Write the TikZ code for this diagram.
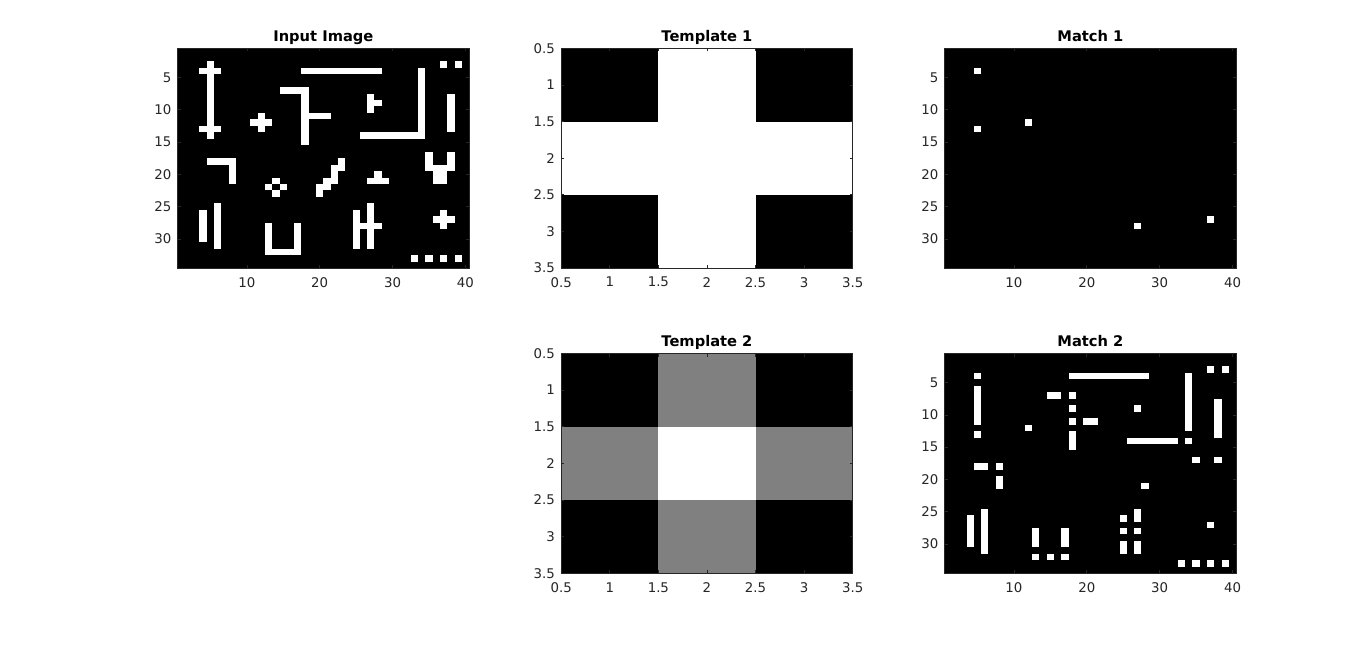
\documentclass[tikz,border=0pt]{standalone}
\usepackage{fontspec}
\setmainfont{DejaVu Sans}
\definecolor{axgray}{gray}{0.15}
\definecolor{midgray}{gray}{0.5}
\begin{document}
\begin{tikzpicture}[x=0.75pt, y=-0.75pt,
        every node/.style={font=\fontsize{10}{12}\selectfont, text=axgray},
        ttl/.style={font=\fontsize{11}{13}\selectfont\bfseries, text=black,
          anchor=base, inner sep=0pt, yshift=5.1pt},
        xlbl/.style={anchor=north, inner sep=0pt, yshift=-6.75pt},
        ylbl/.style={anchor=east, inner sep=0pt, xshift=-4.5pt},
        frame/.style={draw=axgray, line width=0.5pt},
        tickln/.style={draw=axgray, line width=0.5pt},
        pixgrid/.style={x=5.4656pt, y=-4.8464pt},
        tmplgrid/.style={x=72.875pt, y=-54.925pt},
      ]
      \useasboundingbox (0,0) rectangle (1366,644);
      \fill[white] (0,0) rectangle (1366,644);

      % input image
      \begin{scope}[shift={(173.96,45.07)}, pixgrid]
        \fill[black] (0.5,0.5) rectangle (40.5,34.5);
        \foreach \a/\b/\c/\d in {5/3/5/14, 4/4/6/4, 4/13/6/13,
            12/11/12/13, 11/12/13/12,
            15/7/18/7, 18/7/18/15, 18/11/21/11, 18/4/28/4,
            27/8/27/10, 28/9/28/9, 34/4/34/14, 26/14/34/14,
            37/3/37/3, 39/3/39/3, 38/8/38/13,
            5/18/8/18, 8/18/8/21,
            14/21/14/21, 13/22/13/22, 15/22/15/22, 14/23/14/23,
            23/18/23/19, 22/19/22/21, 21/21/21/22, 20/22/20/23,
            28/20/28/21, 27/21/29/21,
            35/17/35/19, 38/17/38/19, 36/19/37/21,
            4/26/4/30, 6/25/6/31,
            13/28/13/32, 17/28/17/32, 13/32/17/32,
            25/26/25/31, 27/25/27/31, 25/28/28/28,
            37/26/37/28, 36/27/38/27,
            33/33/33/33, 35/33/35/33, 37/33/37/33, 39/33/39/33}
          \fill[white] (\a-0.5,\b-0.5) rectangle (\c+0.5,\d+0.5);
        \draw[frame] (0.5,0.5) rectangle (40.5,34.5);
        \foreach \t [count=\i] in {10,20,30,40} {
          \draw[tickln] (\t,34.5) -- ++(0pt,2.25pt);
          \draw[tickln] (\t,0.5) -- ++(0pt,-2.25pt);
          \node[xlbl] (inx\i) at (\t,34.5) {\t};
        }
        \foreach \t [count=\i] in {5,10,15,20,25,30} {
          \draw[tickln] (0.5,\t) -- ++(2.25pt,0pt);
          \draw[tickln] (40.5,\t) -- ++(-2.25pt,0pt);
          \node[ylbl] (iny\i) at (0.5,\t) {\t};
        }
        \node[ttl] (intitle) at (20.5,0.5) {Input Image};
      \end{scope}

      % template 1
      \begin{scope}[shift={(512.62,11.68)}, tmplgrid]
        \fill[black] (0.5,0.5) rectangle (3.5,3.5);
        \fill[white] (1.5,0.5) rectangle (2.5,3.5);
        \fill[white] (0.5,1.5) rectangle (3.5,2.5);
        \draw[frame] (0.5,0.5) rectangle (3.5,3.5);
        \foreach \t [count=\i] in {0.5,1,1.5,2,2.5,3,3.5} {
          \draw[tickln] (\t,3.5) -- ++(0pt,2.25pt);
          \draw[tickln] (\t,0.5) -- ++(0pt,-2.25pt);
          \draw[tickln] (0.5,\t) -- ++(2.25pt,0pt);
          \draw[tickln] (3.5,\t) -- ++(-2.25pt,0pt);
          \node[xlbl] (tax\i) at (\t,3.5) {\t};
          \node[ylbl] (tay\i) at (0.5,\t) {\t};
        }
        \node[ttl] (tatitle) at (2,0.5) {Template 1};
      \end{scope}

      % match 1
      \begin{scope}[shift={(941.06,45.07)}, pixgrid]
        \fill[black] (0.5,0.5) rectangle (40.5,34.5);
        \foreach \a/\b in {5/4, 5/13, 12/12, 27/28, 37/27}
          \fill[white] (\a-0.5,\b-0.5) rectangle (\a+0.5,\b+0.5);
        \draw[frame] (0.5,0.5) rectangle (40.5,34.5);
        \foreach \t [count=\i] in {10,20,30,40} {
          \draw[tickln] (\t,34.5) -- ++(0pt,2.25pt);
          \draw[tickln] (\t,0.5) -- ++(0pt,-2.25pt);
          \node[xlbl] (max\i) at (\t,34.5) {\t};
        }
        \foreach \t [count=\i] in {5,10,15,20,25,30} {
          \draw[tickln] (0.5,\t) -- ++(2.25pt,0pt);
          \draw[tickln] (40.5,\t) -- ++(-2.25pt,0pt);
          \node[ylbl] (may\i) at (0.5,\t) {\t};
        }
        \node[ttl] (matitle) at (20.5,0.5) {Match 1};
      \end{scope}

      % template 2
      \begin{scope}[shift={(512.62,316.88)}, tmplgrid]
        \fill[black] (0.5,0.5) rectangle (3.5,3.5);
        \fill[midgray] (1.5,0.5) rectangle (2.5,3.5);
        \fill[midgray] (0.5,1.5) rectangle (3.5,2.5);
        \fill[white] (1.5,1.5) rectangle (2.5,2.5);
        \draw[frame] (0.5,0.5) rectangle (3.5,3.5);
        \foreach \t [count=\i] in {0.5,1,1.5,2,2.5,3,3.5} {
          \draw[tickln] (\t,3.5) -- ++(0pt,2.25pt);
          \draw[tickln] (\t,0.5) -- ++(0pt,-2.25pt);
          \draw[tickln] (0.5,\t) -- ++(2.25pt,0pt);
          \draw[tickln] (3.5,\t) -- ++(-2.25pt,0pt);
          \node[xlbl] (tbx\i) at (\t,3.5) {\t};
          \node[ylbl] (tby\i) at (0.5,\t) {\t};
        }
        \node[ttl] (tbtitle) at (2,0.5) {Template 2};
      \end{scope}

      % match 2
      \begin{scope}[shift={(941.06,350.27)}, pixgrid]
        \fill[black] (0.5,0.5) rectangle (40.5,34.5);
        \foreach \a/\b/\c/\d in {5/4/5/4, 5/6/5/11, 5/13/5/13,
            15/7/16/7, 18/7/18/7, 18/9/18/9, 18/11/18/11, 18/13/18/15,
            20/11/21/11, 18/4/28/4, 12/12/12/12, 27/9/27/9,
            34/4/34/12, 34/14/34/14, 26/14/32/14,
            37/3/37/3, 39/3/39/3, 38/8/38/13,
            5/18/6/18, 8/18/8/18, 8/20/8/21,
            28/21/28/21, 35/17/35/17, 38/17/38/17,
            4/26/4/30, 6/25/6/31,
            13/28/13/30, 17/28/17/30, 13/32/13/32, 15/32/15/32, 17/32/17/32,
            25/26/25/26, 25/28/25/28, 25/30/25/31,
            27/25/27/26, 27/28/27/28, 27/30/27/31,
            37/27/37/27,
            33/33/33/33, 35/33/35/33, 37/33/37/33, 39/33/39/33}
          \fill[white] (\a-0.5,\b-0.5) rectangle (\c+0.5,\d+0.5);
        \draw[frame] (0.5,0.5) rectangle (40.5,34.5);
        \foreach \t [count=\i] in {10,20,30,40} {
          \draw[tickln] (\t,34.5) -- ++(0pt,2.25pt);
          \draw[tickln] (\t,0.5) -- ++(0pt,-2.25pt);
          \node[xlbl] (mbx\i) at (\t,34.5) {\t};
        }
        \foreach \t [count=\i] in {5,10,15,20,25,30} {
          \draw[tickln] (0.5,\t) -- ++(2.25pt,0pt);
          \draw[tickln] (40.5,\t) -- ++(-2.25pt,0pt);
          \node[ylbl] (mby\i) at (0.5,\t) {\t};
        }
        \node[ttl] (mbtitle) at (20.5,0.5) {Match 2};
      \end{scope}
    \end{tikzpicture}
\end{document}
